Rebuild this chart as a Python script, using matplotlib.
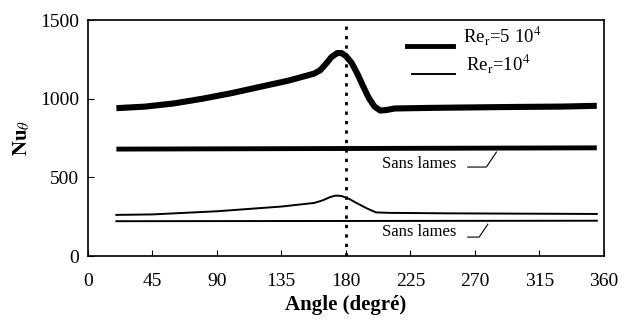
import matplotlib.pyplot as plt

plt.rcParams['font.family'] = ['Liberation Serif', 'DejaVu Serif']
plt.rcParams['mathtext.fontset'] = 'stix'

# Re_r = 5 10^4, with blades
ang_hi = [20, 40, 60, 80, 100, 120, 140, 152, 158, 162, 166, 170, 174, 177, 180, 184, 188, 192, 196, 200, 204, 208, 214, 240, 270, 300, 330, 355]
nu_hi = [940, 950, 970, 1000, 1035, 1075, 1115, 1145, 1160, 1180, 1220, 1265, 1290, 1290, 1272, 1228, 1160, 1080, 1005, 950, 925, 928, 938, 942, 945, 948, 950, 955]
# Re_r = 5 10^4, without blades
ang_hi0 = [20, 355]
nu_hi0 = [680, 688]

# Re_r = 10^4, with blades
ang_lo = [20, 45, 90, 135, 158, 164, 169, 173, 177, 182, 188, 195, 201, 210, 250, 300, 355]
nu_lo = [262, 265, 285, 315, 338, 355, 375, 385, 382, 365, 335, 302, 278, 275, 272, 270, 268]
# Re_r = 10^4, without blades
ang_lo0 = [20, 355]
nu_lo0 = [222, 225]

xticks = [0, 45, 90, 135, 180, 225, 270, 315, 360]
yticks = [0, 500, 1000, 1500]

fig = plt.figure(figsize=(6.22, 3.23), dpi=100)
ax = fig.add_axes([0.141, 0.207, 0.830, 0.731])

ax.plot(ang_hi, nu_hi, color='black', lw=4.4, solid_capstyle='butt', solid_joinstyle='round')
ax.plot(ang_hi0, nu_hi0, color='black', lw=3.5, solid_capstyle='butt')
ax.plot(ang_lo, nu_lo, color='black', lw=1.4, solid_joinstyle='round')
ax.plot(ang_lo0, nu_lo0, color='black', lw=1.4)
ax.axvline(180, color='black', lw=2, ls=(0, (1.2, 2.2)))

# legend drawn by hand as in the original
ax.plot([223, 255], [1335, 1335], color='black', lw=3.5)
ax.text(262, 1330, r'Re$_\mathrm{r}$=5 10$^4$', fontsize=13.5, va='bottom')
ax.plot([226, 256], [1157, 1157], color='black', lw=1.4)
ax.text(264, 1150, r'Re$_\mathrm{r}$=10$^4$', fontsize=13.5, va='bottom')

# "Sans lames" notes with pointer lines
ax.text(231, 588, 'Sans lames', fontsize=12, ha='center', va='center')
ax.plot([265, 278, 285], [566, 566, 661], color='black', lw=0.8)
ax.text(231, 153, 'Sans lames', fontsize=12, ha='center', va='center')
ax.plot([265, 273, 279], [121, 121, 203], color='black', lw=0.8)

ax.set_xlim(0, 360)
ax.set_ylim(0, 1500)
ax.set_xticks(xticks)
ax.set_yticks(yticks)
ax.tick_params(direction='in', length=4, labelsize=14, top=False, right=False)
ax.tick_params(axis='x', pad=12)
ax.tick_params(axis='y', pad=6)
for s in ax.spines.values():
    s.set_linewidth(1.2)

ax.set_xlabel('Angle (degré)', fontsize=15, fontweight='bold', labelpad=4)
ax.set_ylabel(r'$\mathbf{Nu}_\theta$', fontsize=15, labelpad=6)

fig.savefig('out.png', dpi=100)
